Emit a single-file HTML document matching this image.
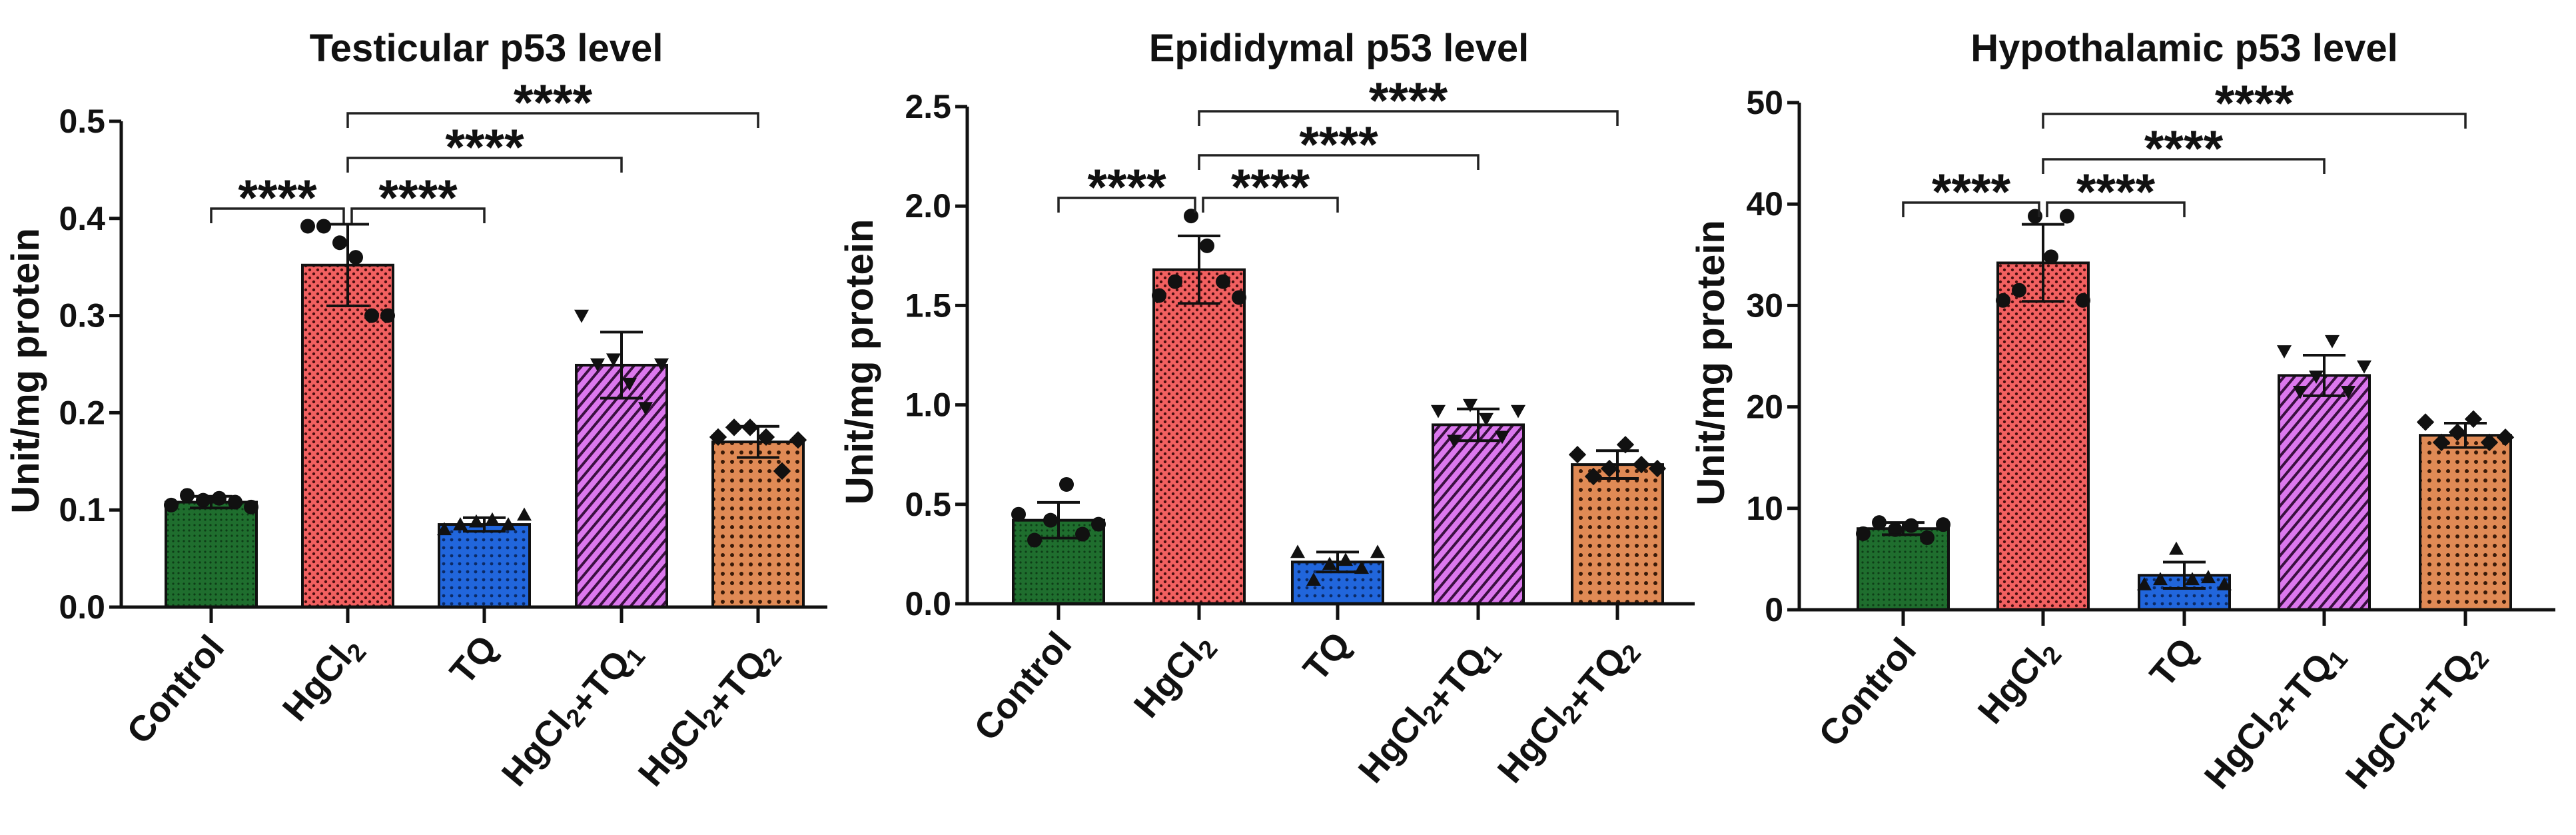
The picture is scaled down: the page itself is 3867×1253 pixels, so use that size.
<!DOCTYPE html>
<html><head><meta charset="utf-8">
<style>
html,body{margin:0;padding:0;background:#fff;}
svg{display:block;}
text{font-family:"Liberation Sans",Arial,sans-serif;font-weight:bold;fill:#111;}
</style></head>
<body>
<svg id="fig" width="3867" height="1253" viewBox="0 0 3867 1253" xmlns="http://www.w3.org/2000/svg">
<defs>
 <pattern id="pat-green" width="8" height="8" patternUnits="userSpaceOnUse"><rect width="8" height="8" fill="#1f6e2e"/><circle cx="4" cy="4" r="1.6" fill="#0d3d17"/></pattern>
 <pattern id="pat-red" width="12" height="12" patternUnits="userSpaceOnUse"><rect width="12" height="12" fill="#f26060"/><circle cx="3" cy="3" r="2.2" fill="#4a0f10"/><circle cx="9" cy="9" r="2.2" fill="#4a0f10"/></pattern>
 <pattern id="pat-blue" width="12" height="12" patternUnits="userSpaceOnUse"><rect width="12" height="12" fill="#2166dc"/><circle cx="6" cy="6" r="2.4" fill="#0b2a66"/></pattern>
 <pattern id="pat-violet" width="12" height="12" patternUnits="userSpaceOnUse" patternTransform="rotate(-50)"><rect width="12" height="12" fill="#dc78ee"/><rect width="12" height="4" fill="#3a1040"/></pattern>
 <pattern id="pat-orange" width="14" height="14" patternUnits="userSpaceOnUse"><rect width="14" height="14" fill="#e08a55"/><circle cx="7" cy="7" r="3" fill="#3a1a08"/></pattern>
</defs>
</svg>
<script>
// ---- data ----
const categories = ["Control","HgCl2","TQ","HgCl2+TQ1","HgCl2+TQ2"];
const titles = ["Testicular p53 level","Epididymal p53 level","Hypothalamic p53 level"];
const yMaxes = [0.5, 2.5, 50];
const yTickLabels1 = ["0.0","0.1","0.2","0.3","0.4","0.5"];
const yTickLabels2 = ["0.0","0.5","1.0","1.5","2.0","2.5"];
const yTickLabels3 = ["0","10","20","30","40","50"];
const means1 = [0.108, 0.352, 0.085, 0.249, 0.170];
const sd1 = [0.006, 0.042, 0.007, 0.034, 0.016];
const means2 = [0.42, 1.68, 0.21, 0.90, 0.70];
const sd2 = [0.09, 0.17, 0.05, 0.08, 0.07];
const means3 = [8.0, 34.2, 3.4, 23.1, 17.2];
const sd3 = [0.6, 3.8, 1.3, 2.0, 1.2];
const points1 = [[0.105,0.115,0.110,0.112,0.108,0.103],[0.392,0.392,0.375,0.360,0.300,0.300],[0.080,0.085,0.088,0.090,0.085,0.095],[0.300,0.250,0.255,0.230,0.205,0.250],[0.175,0.185,0.185,0.175,0.140,0.172]];
const points2 = [[0.45,0.32,0.42,0.60,0.35,0.40],[1.55,1.62,1.95,1.80,1.62,1.54],[0.26,0.12,0.20,0.22,0.18,0.26],[0.97,0.82,1.00,0.93,0.84,0.97],[0.75,0.64,0.68,0.80,0.70,0.68]];
const points3 = [[7.5,8.6,7.9,8.3,7.1,8.4],[30.5,31.5,38.8,34.8,38.8,30.5],[2.5,3.0,6.0,3.0,3.2,2.5],[25.5,21.5,23.0,26.5,21.5,24.0],[18.5,16.5,17.5,18.8,16.5,17.0]];
const sigLabel = "****";

// ---- layout ----
const panels = [
 {x0:182, xEnd:1242, yTop:182, yBot:911, cx:[317,522,727,933,1138], titleX:730, ytitleX:38, br:[313,313,237,170], means:means1, sd:sd1, pts:points1, ticks:yTickLabels1},
 {x0:1452, xEnd:2544, yTop:160, yBot:906, cx:[1589,1800,2008,2219,2428], titleX:2010, ytitleX:1290, br:[297,297,233,167], means:means2, sd:sd2, pts:points2, ticks:yTickLabels2},
 {x0:2701, xEnd:3836, yTop:154, yBot:915, cx:[2857,3067,3279,3489,3701], titleX:3279, ytitleX:2568, br:[304,304,239,171], means:means3, sd:sd3, pts:points3, ticks:yTickLabels3}
];
const fills = ["url(#pat-green)","url(#pat-red)","url(#pat-blue)","url(#pat-violet)","url(#pat-orange)"];
const shapes = ["circle","circle","tri-up","tri-down","diamond"];
const NS = "http://www.w3.org/2000/svg";
const svg = document.getElementById("fig");
function mk(tag, attrs, parent){const e=document.createElementNS(NS,tag);for(const k in attrs)e.setAttribute(k,attrs[k]);(parent||svg).appendChild(e);return e;}

function labelInto(t, name){
  const parts = name.match(/HgCl2|TQ1|TQ2|[^]/g);
  let buf="";
  const flush=()=>{if(buf){const s=mk("tspan",{},t);s.textContent=buf;buf="";}};
  for(const p of parts){
    if(p==="HgCl2"){buf+="HgCl";flush();const s=mk("tspan",{"font-size":"0.7em",dy:"10"},t);s.textContent="2";const r=mk("tspan",{dy:"-10"},t);r.textContent="";}
    else if(p==="TQ1"||p==="TQ2"){buf+="TQ";flush();const s=mk("tspan",{"font-size":"0.7em",dy:"10"},t);s.textContent=p[2];const r=mk("tspan",{dy:"-10"},t);r.textContent="";}
    else buf+=p;
  }
  flush();
}

panels.forEach((P, pi)=>{
  const g = mk("g",{});
  
  
  const ymax = yMaxes[pi];
  const yS = v => P.yBot - (v/ymax)*(P.yBot-P.yTop);
  const bw = 136;
  const tt = mk("text",{x:P.titleX,y:92,"text-anchor":"middle","font-size":"58"},g);
  tt.textContent = titles[pi];
  
  
  const yt = mk("text",{x:0,y:0,"text-anchor":"middle","font-size":"58",transform:`translate(${P.ytitleX+20},${(P.yTop+P.yBot)/2+10}) rotate(-90)`},g);
  yt.textContent = "Unit/mg protein";
  
  
  P.means.forEach((m,i)=>{
    const r = mk("rect",{x:P.cx[i]-bw/2,y:yS(m),width:bw,height:P.yBot-yS(m),fill:fills[i],stroke:"#111","stroke-width":"4"},g);
    
    
  });
  P.pts.forEach((arr,i)=>{
    arr.forEach((v,j)=>{
      const px = P.cx[i] + (j-2.5)*24;
      const py = yS(v);
      let e;
      const s=11;
      if(shapes[i]==="circle") e=mk("circle",{cx:px,cy:py,r:s,fill:"#111"},g);
      else if(shapes[i]==="tri-up") e=mk("polygon",{points:`${px},${py-s} ${px+s},${py+s*0.8} ${px-s},${py+s*0.8}`,fill:"#111"},g);
      else if(shapes[i]==="tri-down") e=mk("polygon",{points:`${px},${py+s} ${px+s},${py-s*0.8} ${px-s},${py-s*0.8}`,fill:"#111"},g);
      else e=mk("polygon",{points:`${px},${py-s*1.2} ${px+s*1.2},${py} ${px},${py+s*1.2} ${px-s*1.2},${py}`,fill:"#111"},g);
      
      
    });
  });
  P.means.forEach((m,i)=>{
    const eg = mk("g",{stroke:"#111","stroke-width":"4",fill:"none"},g);
    
    
    const x=P.cx[i], hi=yS(m+P.sd[i]), lo=yS(m-P.sd[i]);
    mk("line",{x1:x,y1:hi,x2:x,y2:lo},eg);
    mk("line",{x1:x-32,y1:hi,x2:x+32,y2:hi},eg);
    mk("line",{x1:x-32,y1:lo,x2:x+32,y2:lo},eg);
  });
  const ax = mk("g",{stroke:"#111","stroke-width":"5",fill:"none"},g);
  
  
  mk("line",{x1:P.x0,y1:P.yTop,x2:P.x0,y2:P.yBot+2},ax);
  mk("line",{x1:P.x0-18,y1:P.yBot,x2:P.xEnd,y2:P.yBot},ax);
  P.ticks.forEach((lab,k)=>{
    const v = ymax*k/(P.ticks.length-1);
    const y = yS(v);
    mk("line",{x1:P.x0-18,y1:y,x2:P.x0,y2:y},ax);
    const t = mk("text",{x:P.x0-24,y:y+17,"text-anchor":"end","font-size":"50"},g);
    t.textContent = lab;
    
    
  });
  categories.forEach((c,i)=>{
    mk("line",{x1:P.cx[i],y1:P.yBot,x2:P.cx[i],y2:P.yBot+24},ax);
    const t = mk("text",{x:0,y:0,"text-anchor":"end","font-size":"54",transform:`translate(${P.cx[i]+22},${P.yBot+62}) rotate(-50)`},g);
    labelInto(t, c);
    
    
  });
  const pairs = [[0,1],[1,2],[1,3],[1,4]];
  pairs.forEach((pr,k)=>{
    const by = P.br[k];
    const bg = mk("g",{},g);
    
    
    let xa = P.cx[pr[0]], xb = P.cx[pr[1]];
    if(k===0) xb -= 6;
    if(k===1) xa += 6;
    mk("polyline",{points:`${xa},${by+22} ${xa},${by} ${xb},${by} ${xb},${by+22}`,stroke:"#222","stroke-width":"3.5",fill:"none"},bg);
    const st = mk("text",{x:(xa+xb)/2,y:by+10,"text-anchor":"middle","font-size":"76"},bg);
    st.textContent = sigLabel;
  });
});
</script>
</body></html>
